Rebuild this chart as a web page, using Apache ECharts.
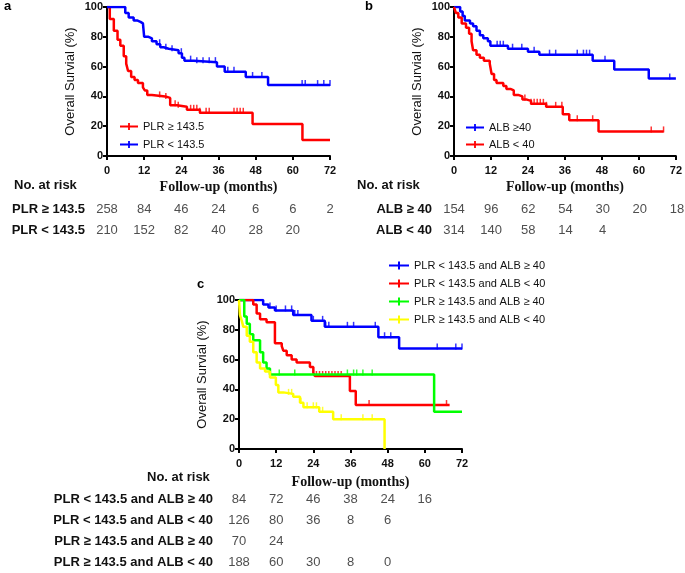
<!DOCTYPE html>
<html lang="en">
<head>
	<meta charset="UTF-8">
	<title>Overall survival</title>
	<style>body{margin:0;background:#fff}</style>
</head>
<body>
	<div id="main" style="width: 685px;height: 573px"></div>
	<script src="https://cdn.jsdelivr.net/npm/echarts@6/dist/echarts.min.js"></script>
	<script>
		// panel a
		var aHighT = [0, 0.9, 2.2, 3.4, 4.3, 5.4, 6.2, 6.8, 7.8, 8.9, 10, 11.6, 12.2, 13, 14.5, 18.8, 20.4, 22.6, 25.8, 30, 47, 63.1, 72]
		var aHighS = [100, 92, 84, 78, 74, 67, 62, 57, 53, 51, 49, 46, 44, 41, 40, 39, 34, 33, 31, 29, 21.5, 10.7, 10.7]
		var aHighC = [17, 19, 22, 23, 27, 28, 29, 30, 32, 33, 41, 42, 43, 44]
		var aLowT = [0, 5.9, 7, 8.6, 9.7, 10.8, 11.6, 12, 13.4, 14.5, 16, 17.2, 18.3, 19.9, 23.1, 24.2, 25, 28, 35.5, 38, 44.8, 52, 72]
		var aLowS = [100, 96, 93, 91, 90, 89, 88, 80, 79, 77, 75, 73, 72, 71, 69, 66, 64, 63, 60, 56.5, 53, 47.6, 47.6]
		var aLowC = [17, 19, 21, 24, 27, 29, 31, 33, 35, 39, 41, 47, 50, 63, 64, 68, 70, 72]
		// panel b
		var bHighT = [0, 2, 2.8, 3.5, 5.2, 6.2, 7.3, 8.4, 9.5, 11, 11.8, 17.5, 24, 27.7, 45, 52, 63.2, 72]
		var bHighS = [100, 97, 94, 91, 89, 87, 84, 81, 79, 77, 74, 72, 70, 68, 64, 58, 52, 52]
		var bHighC = [14, 15, 16, 19, 22, 26, 31, 33, 40, 42, 43, 44, 49, 70]
		var bLowT = [0, 0.6, 1.4, 2.5, 3.9, 4.9, 5.7, 6.2, 7.3, 8.4, 9.7, 11.6, 12.2, 13, 13.8, 16, 17, 18.3, 19.4, 20.8, 22.2, 23.4, 25, 29.9, 35.3, 37.4, 46.9, 68]
		var bLowS = [100, 96, 93, 89, 86, 82, 77, 71, 68, 66, 64, 62, 55, 51, 49, 47, 45, 44, 41, 40, 38, 37, 35, 33, 28, 24, 16.5, 16.5]
		var bLowC = [23, 25, 26, 27, 28, 29, 30, 33, 35, 40, 45, 64, 68]
		// panel c
		var cG1T = [0, 7.8, 9.5, 11.6, 17.5, 23.4, 27.7, 45, 51.7, 72]
		var cG1S = [100, 97, 95, 93, 90, 86, 82, 75, 67.5, 67.5]
		var cG1C = [10, 12, 15, 17, 18, 19, 24, 27, 28, 29, 35, 37, 44, 47, 49, 64, 70, 72]
		var cG2T = [0, 4.6, 5.7, 6.8, 8.9, 11.6, 13.8, 14.3, 15.4, 17, 18.6, 22.9, 24, 24.5, 35.8, 37.7, 68]
		var cG2S = [100, 97, 91, 87, 85, 71, 69, 66, 63, 60, 58, 55, 51, 49, 39, 29.5, 29.5]
		var cG2C = [25, 26, 27, 28, 29, 30, 31, 32, 33, 42, 67]
		var cG3T = [0, 1.7, 2.5, 3.5, 4.6, 6.8, 7.8, 8.9, 10, 63, 72]
		var cG3S = [100, 89, 84, 77, 73, 65, 58, 54, 50, 25, 25]
		var cG3C = [13, 18, 35, 37, 38, 40, 43]
		var cG4T = [0, 0.3, 0.9, 1.4, 2.5, 3.5, 4.6, 5.7, 6.8, 8.4, 10, 11.9, 12.7, 14.3, 17.5, 19.7, 20.8, 25.9, 30.4, 47]
		var cG4S = [100, 90, 86, 82, 76, 72, 65, 58, 54, 52, 48, 43, 38, 37, 35, 31, 28, 25, 20, 0]
		var cG4C = [16, 17, 20, 22, 24, 25, 27, 33, 40, 43]

		// time points of the risk table columns
		var riskTimes = [0, 12, 24, 36, 48, 60, 72]

		// risk tables
		var aRows = ['PLR ≥ 143.5', 'PLR < 143.5']
		var aRisk = [[258, 84, 46, 24, 6, 6, 2], [210, 152, 82, 40, 28, 20]]
		var bRows = ['ALB ≥ 40', 'ALB < 40']
		var bRisk = [[154, 96, 62, 54, 30, 20, 18], [314, 140, 58, 14, 4]]
		var cRows = ['PLR < 143.5 and ALB ≥ 40', 'PLR < 143.5 and ALB < 40', 'PLR ≥ 143.5 and ALB ≥ 40', 'PLR ≥ 143.5 and ALB < 40']
		var cRisk = [[84, 72, 46, 38, 24, 16], [126, 80, 36, 8, 6], [70, 24], [188, 60, 30, 8, 0]]

		var RED = '#ff0000', BLUE = '#0000ff', GREEN = '#00ff00', YELLOW = '#ffff00'
		var SANS = 'Liberation Sans'

		function pairs(t, s) {
			return t.map(function (v, i) { return [v, s[i]] })
		}
		function survAt(t, s, x) {
			var v = s[0]
			for (var i = 0; i < t.length; i++) { if (t[i] <= x) v = s[i] }
			return v
		}
		function censors(t, s, c) {
			return c.map(function (x) { return [x, survAt(t, s, x)] })
		}

		var grids = [
			{ left: 107, top: 7, width: 223, height: 149 },
			{ left: 454, top: 7, width: 223, height: 149 },
			{ left: 239, top: 300, width: 223, height: 149 },
			{ left: 107, top: 199, width: 223, height: 42 },
			{ left: 454, top: 199, width: 223, height: 42 },
			{ left: 239, top: 489, width: 223, height: 89 }
		]

		var xAxes = [], yAxes = []
		for (var g = 0; g < 3; g++) {
			xAxes.push({
				type: 'value', gridIndex: g, min: 0, max: 72, interval: 12,
				name: 'Follow-up (months)', nameLocation: 'middle', nameGap: g == 2 ? 26 : 24,
				nameTextStyle: { fontFamily: 'Liberation Serif', fontWeight: 'bold', fontSize: 14, color: '#111' },
				axisLine: { lineStyle: { color: '#000', width: 2 } },
				axisTick: { length: 4, lineStyle: { width: 2, color: '#000' } },
				axisLabel: { fontFamily: SANS, fontWeight: 'bold', fontSize: 11, color: '#111', margin: 9 },
				splitLine: { show: false }
			})
			yAxes.push({
				type: 'value', gridIndex: g, min: 0, max: 100, interval: 20,
				name: 'Overall Survial (%)', nameLocation: 'middle', nameGap: 30,
				nameTextStyle: { fontFamily: SANS, fontSize: 13, color: '#111' },
				axisLine: { show: true, lineStyle: { color: '#000', width: 2 } },
				axisTick: { show: true, length: 4, lineStyle: { width: 2, color: '#000' } },
				axisLabel: { fontFamily: SANS, fontWeight: 'bold', fontSize: 11, color: '#111', margin: 4 },
				splitLine: { show: false }
			})
		}
		var tableRows = [aRows, bRows, cRows]
		for (var g = 3; g < 6; g++) {
			xAxes.push({ type: 'value', gridIndex: g, min: 0, max: 72, show: false })
			yAxes.push({
				type: 'category', gridIndex: g, inverse: true, data: tableRows[g - 3],
				axisLine: { show: false }, axisTick: { show: false },
				axisLabel: { fontFamily: SANS, fontWeight: 'bold', fontSize: 13, color: '#111', margin: g == 5 ? 26 : 22 }
			})
		}

		var series = []
		function curve(name, color, idx, t, s, c) {
			series.push({
				name: name, type: 'line', step: 'end', xAxisIndex: idx, yAxisIndex: idx,
				data: pairs(t, s), showSymbol: false, symbol: 'none',
				lineStyle: { color: color, width: 2.5 }, itemStyle: { color: color }
			})
			series.push({
				name: name, type: 'scatter', xAxisIndex: idx, yAxisIndex: idx,
				data: censors(t, s, c), symbol: 'rect', symbolSize: [1.5, 6],
				symbolOffset: [0, -2], itemStyle: { color: color }, silent: true
			})
		}
		curve('PLR ≥ 143.5', RED, 0, aHighT, aHighS, aHighC)
		curve('PLR < 143.5', BLUE, 0, aLowT, aLowS, aLowC)
		curve('ALB ≥40', BLUE, 1, bHighT, bHighS, bHighC)
		curve('ALB < 40', RED, 1, bLowT, bLowS, bLowC)
		curve('PLR < 143.5 and ALB ≥ 40', BLUE, 2, cG1T, cG1S, cG1C)
		curve('PLR < 143.5 and ALB < 40', RED, 2, cG2T, cG2S, cG2C)
		curve('PLR ≥ 143.5 and ALB ≥ 40', GREEN, 2, cG3T, cG3S, cG3C)
		curve('PLR ≥ 143.5 and ALB < 40', YELLOW, 2, cG4T, cG4S, cG4C)

		var risks = [aRisk, bRisk, cRisk]
		for (var g = 0; g < 3; g++) {
			var pts = []
			risks[g].forEach(function (row, r) {
				row.forEach(function (n, k) { pts.push([riskTimes[k], r, n]) })
			})
			series.push({
				type: 'scatter', xAxisIndex: g + 3, yAxisIndex: g + 3, data: pts,
				symbolSize: 0, silent: true,
				label: {
					show: true, position: 'inside', fontFamily: SANS, fontSize: 13, color: '#222',
					formatter: function (p) { return String(p.value[2]) }
				}
			})
		}

		var legendIcon = 'path://M0,4L20,4L20,6L11,6L11,9L9,9L9,6L0,6L0,4Z M9,1L11,1L11,4L9,4Z'
		var legendText = { fontFamily: SANS, fontSize: 11, color: '#111' }

		var myChart = echarts.init(document.getElementById('main'))
		var option = {
			animation: false,
			grid: grids,
			xAxis: xAxes,
			yAxis: yAxes,
			legend: [
				{ data: ['PLR ≥ 143.5', 'PLR < 143.5'], orient: 'vertical', left: 115, top: 116, itemWidth: 18, itemHeight: 9, itemGap: 7, icon: legendIcon, textStyle: legendText, selectedMode: false },
				{ data: ['ALB ≥40', 'ALB < 40'], orient: 'vertical', left: 461, top: 117, itemWidth: 18, itemHeight: 9, itemGap: 6, icon: legendIcon, textStyle: legendText, selectedMode: false },
				{ data: cRows, orient: 'vertical', left: 384, top: 255, itemWidth: 20, itemHeight: 9, itemGap: 7, icon: legendIcon, textStyle: legendText, selectedMode: false }
			],
			graphic: [
				{ type: 'text', left: 4, top: 0, style: { text: 'a', font: 'bold 13px Liberation Sans', fill: '#000' } },
				{ type: 'text', left: 365, top: 0, style: { text: 'b', font: 'bold 13px Liberation Sans', fill: '#000' } },
				{ type: 'text', left: 197, top: 278, style: { text: 'c', font: 'bold 13px Liberation Sans', fill: '#000' } },
				{ type: 'text', left: 14, top: 179, style: { text: 'No. at risk', font: 'bold 13px Liberation Sans', fill: '#111' } },
				{ type: 'text', left: 357, top: 179, style: { text: 'No. at risk', font: 'bold 13px Liberation Sans', fill: '#111' } },
				{ type: 'text', left: 147, top: 471, style: { text: 'No. at risk', font: 'bold 13px Liberation Sans', fill: '#111' } }
			],
			series: series
		}
		myChart.setOption(option)
	</script>
</body>
</html>
